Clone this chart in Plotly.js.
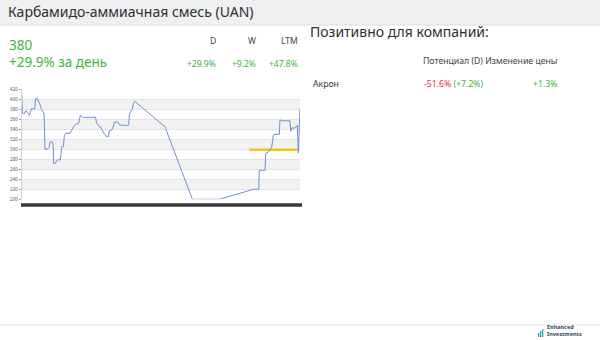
<!DOCTYPE html>
<html><head><meta charset="utf-8">
<script src="https://cdn.plot.ly/plotly-3.0.1.min.js"></script>
<style>html,body{margin:0;padding:0;background:#fff;}#c{width:600px;height:340px;}</style>
</head><body><div id="c"></div>
<script>
// Time index (arbitrary units) and UAN price series
const t = [0,2,9,12,16,20,23,27,30,39,42,47,52,55,59,63,67,70,78,82,85,91,94,96,101,105,108,116,120,125,128,133,145,149,154,161,171,176,182,191,222,224,228,233,237,241,246,251,254,260,263,269,273,278,287,292,301,321,323,327,332,335,339,430,512,593,695,711,713,730,732,740,743,750,755,760,773,775,780,805,807,811,817,822,827,830,835];
const price = [412,372,372,377,375,372,368,376,382,380,402,402,395,389,380,376,372,300,301,304,315,315,310,272,272,277,279,279,305,305,328,332,332,338,343,350,352,368,364,364,364,354,350,345,345,338,332,330,325,325,338,338,342,354,355,350,348,348,368,376,380,392,396,345,200,200,220,220,258,258,292,295,296,304,328,330,330,359,357,357,336,343,342,344,348,292.5,380];
const targetT = [683,828];
const targetV = [299,299];
const yTicks = [200,220,240,260,280,300,320,340,360,380,400,420];
const bandStarts = [220,260,300,340,380];

const title = "Карбамидо-аммиачная смесь (UAN)";
const lastPrice = "380";
const dayChange = "+29.9% за день";
const periodLabels = ["D","W","LTM"];
const periodValues = ["+29.9%","+9.2%","+47.8%"];
const panelTitle = "Позитивно для компаний:";
const colHeader = "Потенциал (D) Изменение цены";
const companies = ["Акрон"];
const potential = ["-51.6%"];
const potentialD = ["(+7.2%)"];
const priceChange = ["+1.3%"];

const W = 600, H = 340;
const px = v => v / W, py = v => 1 - v / H;
const GREEN = "#3db43d", RED = "#e0303a", DARK = "#2f2f2f";
const F = "Noto Sans";

const shapes = [
  {type:"rect", xref:"paper", yref:"paper", x0:0, x1:1, y0:py(25), y1:1, fillcolor:"#eef0f2", line:{width:0}, layer:"below"},
  {type:"line", xref:"paper", yref:"paper", x0:0, x1:1, y0:py(25), y1:py(25), line:{color:"#dde0e4", width:1}},
  {type:"line", xref:"paper", yref:"paper", x0:0, x1:1, y0:py(325), y1:py(325), line:{color:"#e3e3e3", width:1}},
  {type:"rect", xref:"paper", yref:"paper", x0:px(21), x1:px(302), y0:py(206.7), y1:py(203.3), fillcolor:"#3a3a3a", line:{width:0}},
];
bandStarts.forEach(b => shapes.push({type:"rect", xref:"paper", yref:"y", x0:px(21.7), x1:px(300), y0:b, y1:b+20, fillcolor:"#f2f2f2", line:{width:0}, layer:"below"}));
// logo bars
[[538,333],[540,331],[542,329]].forEach(([x,y]) => shapes.push({type:"rect", xref:"paper", yref:"paper", x0:px(x), x1:px(x+1.3), y0:py(337), y1:py(y), fillcolor:"#2aa7b8", line:{width:0}}));

const ann = [];
const A = (x, y, text, size, color, anchor, extra) => ann.push(Object.assign({xref:"paper", yref:"paper", x:px(x), y:py(y), text, showarrow:false, xanchor:anchor||"left", yanchor:"middle", font:{family:F, size, color}}, extra||{}));
A(6, 12, title, 14, DARK);
A(7, 45.5, lastPrice, 13.5, GREEN);
A(7, 62, dayChange, 13.5, GREEN);
const colX = [218, 258, 300];
periodLabels.forEach((l,i) => A(colX[i], 40, l, 8.5, "#444", "right"));
periodValues.forEach((v,i) => A(colX[i], 63, v, 8.5, GREEN, "right"));
A(308, 31, panelTitle, 14, DARK);
A(559, 61, colHeader, 8.7, "#444", "right");
companies.forEach((c,i) => {
  const y = 84 + i*16;
  A(311, y, c, 8.7, "#333");
  A(422, y, `<span style="color:${RED}">${potential[i]}</span> <span style="color:${GREEN}">${potentialD[i]}</span>`, 8.7, RED);
  A(559, y, priceChange[i], 8.7, GREEN, "right");
});
A(545, 330, "<b>Enhanced<br>Investments</b>", 5.5, "#2c4763", "left", {align:"left"});

const data = [
  {x:targetT, y:targetV, type:"scatter", mode:"lines", line:{color:"#f5c518", width:2.5}, hoverinfo:"skip"},
  {x:t, y:price, type:"scatter", mode:"lines", line:{color:"#6f8fd6", width:1}, hoverinfo:"skip"}
];

const layout = {
  width:W, height:H, margin:{l:0,r:0,t:0,b:0}, paper_bgcolor:"#fff", plot_bgcolor:"rgba(0,0,0,0)",
  showlegend:false,
  xaxis:{domain:[px(21.7), px(300)], range:[0,835], showgrid:false, zeroline:false, showticklabels:false, ticks:"", showline:false, fixedrange:true},
  yaxis:{domain:[py(199.3), py(89.3)], range:[200,420], tickvals:yTicks, ticktext:yTicks.map(String), tickfont:{family:F, size:4.5, color:"#555"}, ticks:"outside", ticklen:2, tickcolor:"#999", gridcolor:"#e4e4e4", gridwidth:1, zeroline:false, showline:true, linecolor:"#cfcfcf", linewidth:1},
  shapes, annotations:ann
};
Plotly.newPlot("c", data, layout, {staticPlot:true, displayModeBar:false});
</script></body></html>
